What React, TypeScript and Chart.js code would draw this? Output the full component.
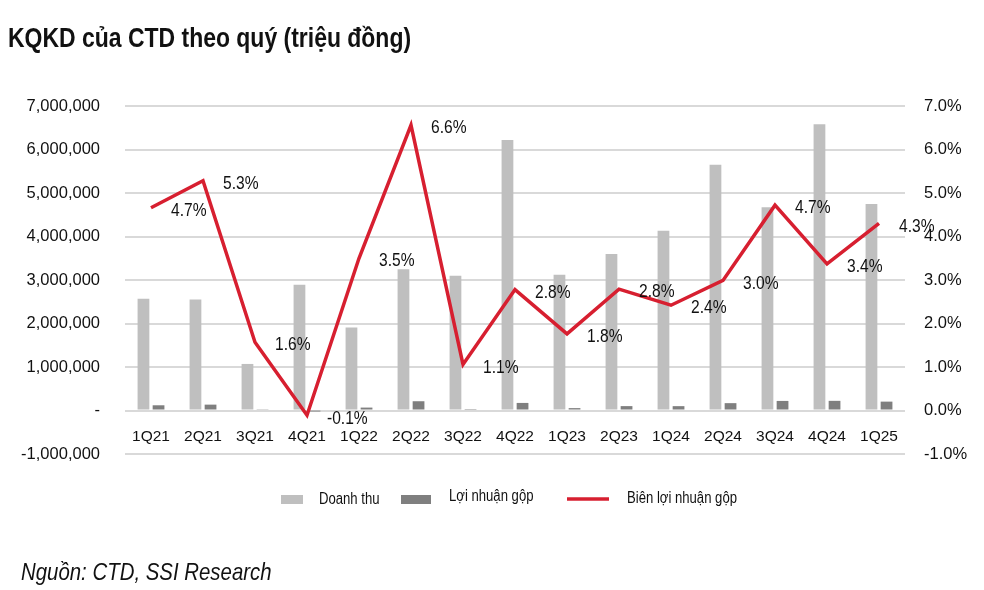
import React, { useEffect, useRef } from 'react';
import { Chart, registerables } from 'chart.js';
Chart.register(...registerables);

const FONT = '"Liberation Sans", Arial, Helvetica, sans-serif';
const SQUEEZE = 0.82;

const categories = ['1Q21', '2Q21', '3Q21', '4Q21', '1Q22', '2Q22', '3Q22', '4Q22', '1Q23', '2Q23', '1Q24', '2Q24', '3Q24', '4Q24', '1Q25'];
const revenue = [2570000, 2550000, 1070000, 2890000, 1910000, 3250000, 3100000, 6220000, 3120000, 3600000, 4130000, 5650000, 4670000, 6580000, 4750000];
const grossProfit = [120000, 135000, 17000, -3000, 67000, 213000, 33000, 174000, 55000, 101000, 100000, 169000, 220000, 222000, 204000];
const grossMargin = [4.66, 5.28, 1.57, -0.11, 3.5, 6.56, 1.06, 2.78, 1.76, 2.79, 2.42, 2.99, 4.72, 3.37, 4.3];

const seriesNames = ['Doanh thu', 'Lợi nhuận gộp', 'Biên lợi nhuận gộp'];
const TITLE = 'KQKD của CTD theo quý (triệu đồng)';
const SOURCE = 'Nguồn: CTD, SSI Research';

const C_REV = '#bfbfbf';
const C_GP = '#7f7f7f';
const C_LINE = '#d71f30';
const C_TEXT = '#111111';

function squeezedText(ctx: CanvasRenderingContext2D, text: string, x: number, y: number, sx: number) {
  ctx.save();
  ctx.translate(x, y);
  ctx.scale(sx, 1);
  ctx.fillText(text, 0, 0);
  ctx.restore();
}

export default function App() {
  const ref = useRef<HTMLCanvasElement>(null);

  useEffect(() => {
    document.body.style.margin = '0';
    const canvas = ref.current;
    if (!canvas) return;

    const labelPlugin = {
      id: 'marginLabels',
      afterDatasetsDraw(chart: any) {
        const ctx = chart.ctx;
        const meta = chart.getDatasetMeta(2);
        ctx.save();
        ctx.font = `19px ${FONT}`;
        ctx.fillStyle = C_TEXT;
        ctx.textAlign = 'left';
        ctx.textBaseline = 'middle';
        meta.data.forEach((pt: any, i: number) => {
          squeezedText(ctx, grossMargin[i].toFixed(1) + '%', pt.x + 20, pt.y + 3, SQUEEZE);
        });
        ctx.restore();
      },
    };

    const legendPlugin = {
      id: 'customLegend',
      afterDraw(chart: any) {
        const ctx = chart.ctx;
        ctx.save();
        ctx.font = `16px ${FONT}`;
        ctx.textBaseline = 'middle';
        ctx.textAlign = 'left';
        const y = 499;
        ctx.fillStyle = C_REV;
        ctx.fillRect(281, y - 4, 22, 9);
        ctx.fillStyle = C_TEXT;
        squeezedText(ctx, chart.data.datasets[0].label, 319, y + 1, SQUEEZE);
        ctx.fillStyle = C_GP;
        ctx.fillRect(401, y - 4, 30, 9);
        ctx.fillStyle = C_TEXT;
        squeezedText(ctx, chart.data.datasets[1].label, 449, y - 2, SQUEEZE);
        ctx.strokeStyle = C_LINE;
        ctx.lineWidth = 3.5;
        ctx.beginPath();
        ctx.moveTo(567, y);
        ctx.lineTo(609, y);
        ctx.stroke();
        ctx.fillStyle = C_TEXT;
        squeezedText(ctx, chart.data.datasets[2].label, 627, y, SQUEEZE);
        ctx.restore();
      },
    };

    const chart = new Chart(canvas, {
      type: 'bar',
      data: {
        labels: categories,
        datasets: [
          {
            type: 'bar',
            label: seriesNames[0],
            data: revenue,
            backgroundColor: C_REV,
            yAxisID: 'y',
            order: 2,
            categoryPercentage: 0.58,
            barPercentage: 0.78,
          },
          {
            type: 'bar',
            label: seriesNames[1],
            data: grossProfit,
            backgroundColor: C_GP,
            yAxisID: 'y',
            order: 2,
            categoryPercentage: 0.58,
            barPercentage: 0.78,
          },
          {
            type: 'line',
            label: seriesNames[2],
            data: grossMargin,
            borderColor: C_LINE,
            backgroundColor: C_LINE,
            borderWidth: 3.5,
            pointRadius: 0,
            tension: 0,
            yAxisID: 'y1',
            order: 0,
          } as any,
        ],
      },
      options: {
        responsive: false,
        animation: false,
        layout: { padding: { top: 106, bottom: 136, left: 0, right: 0 } },
        plugins: {
          legend: { display: false },
          tooltip: { enabled: false },
        },
        scales: {
          x: {
            position: { y: 0 } as any,
            grid: { display: false, drawTicks: false },
            border: { display: false },
            ticks: {
              autoSkip: false,
              maxRotation: 0,
              padding: 17,
              color: C_TEXT,
              font: { family: FONT, size: 15.5 },
            },
          },
          y: {
            position: 'left',
            min: -1000000,
            max: 7000000,
            ticks: {
              stepSize: 1000000,
              padding: 25,
              color: C_TEXT,
              font: { family: FONT, size: 16.5 },
              callback: (v: any) => (Number(v) === 0 ? '-' : Number(v).toLocaleString('en-US')),
            },
            grid: { color: '#d9d9d9', lineWidth: 2, drawTicks: false },
            border: { display: false },
            afterFit: (s: any) => {
              s.width = 125;
            },
          },
          y1: {
            position: 'right',
            min: -1,
            max: 7,
            ticks: {
              stepSize: 1,
              padding: 19,
              color: C_TEXT,
              font: { family: FONT, size: 16.5 },
              callback: (v: any) => Number(v).toFixed(1) + '%',
            },
            grid: { display: false, drawTicks: false },
            border: { display: false },
            afterFit: (s: any) => {
              s.width = 79;
            },
          },
        },
      } as any,
      plugins: [labelPlugin, legendPlugin],
    });

    return () => chart.destroy();
  }, []);

  return (
    <div style={{ position: 'relative', width: 984, height: 590, background: '#fff', overflow: 'hidden' }}>
      <canvas ref={ref} width={984} height={590} style={{ position: 'absolute', left: 0, top: 0, width: 984, height: 590 }} />
      <div
        style={{
          position: 'absolute',
          left: 8,
          top: 22,
          font: `bold 28px ${FONT}`,
          lineHeight: '32px',
          color: C_TEXT,
          whiteSpace: 'nowrap',
          transform: `scaleX(${SQUEEZE})`,
          transformOrigin: 'left center',
        }}
      >
        {TITLE}
      </div>
      <div
        style={{
          position: 'absolute',
          left: 21,
          top: 558,
          font: `italic 24px ${FONT}`,
          lineHeight: '28px',
          color: C_TEXT,
          whiteSpace: 'nowrap',
          transform: 'scaleX(0.85)',
          transformOrigin: 'left center',
        }}
      >
        {SOURCE}
      </div>
    </div>
  );
}
